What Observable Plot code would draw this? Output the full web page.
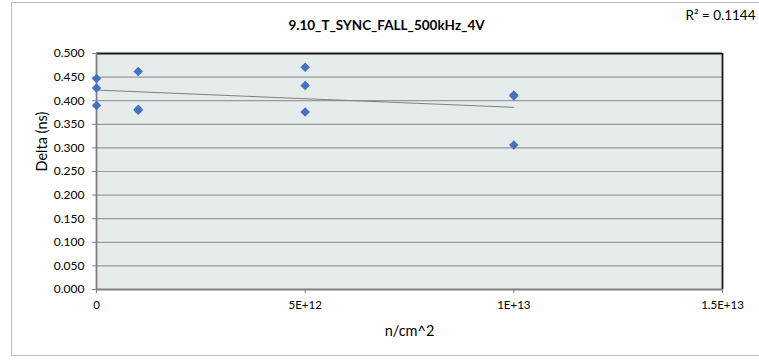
<!DOCTYPE html>
<html>
<head>
<meta charset="utf-8">
<script src="https://cdn.jsdelivr.net/npm/d3@7"></script>
<script src="https://cdn.jsdelivr.net/npm/@observablehq/plot@0.6"></script>
<style>
  html, body { margin: 0; padding: 0; background: #fff; }
  #wrap { position: relative; width: 759px; height: 360px; overflow: hidden; }
  #border { position: absolute; left: 11px; top: 2px; width: 760px; height: 354px; border: 1px solid #bdbdbd; box-sizing: border-box; pointer-events: none; }
  #chart { position: absolute; left: 0; top: 0; }
</style>
</head>
<body>
<div id="wrap"><div id="border"></div><div id="chart"></div></div>
<script>
const title = "9.10_T_SYNC_FALL_500kHz_4V";
const r2Label = "R² = 0.1144";
const xLabel = "n/cm^2";
const yLabel = "Delta (ns)";

const fluence = [0, 0, 0, 1e12, 1e12, 1e12, 5e12, 5e12, 5e12, 1e13, 1e13, 1e13];
const delta   = [0.447, 0.427, 0.390, 0.462, 0.380, 0.382, 0.471, 0.432, 0.376, 0.410, 0.412, 0.306];

const xTicks = [0, 5e12, 1e13, 1.5e13];
const xTickLabels = ["0", "5E+12", "1E+13", "1.5E+13"];
const yTicks = [0, 0.05, 0.1, 0.15, 0.2, 0.25, 0.3, 0.35, 0.4, 0.45, 0.5];
const yTickLabels = ["0.000", "0.050", "0.100", "0.150", "0.200", "0.250", "0.300", "0.350", "0.400", "0.450", "0.500"];

const n = fluence.length;
const font = "Lato, 'Open Sans', sans-serif";

const chart = Plot.plot({
  width: 759,
  height: 360,
  marginLeft: 96,
  marginRight: 37,
  marginTop: 53,
  marginBottom: 71,
  style: { fontFamily: font, fontSize: "12px", color: "#000", background: "transparent" },
  x: { domain: [0, 1.5e13], nice: false },
  y: { domain: [0, 0.5], nice: false },
  marks: [
    Plot.frame({ fill: "#e6ebeb", stroke: null }),
    Plot.ruleY(yTicks.filter(d => d > 0 && d < 0.5), { stroke: "#9a9a9a", strokeWidth: 1.2 }),
    Plot.ruleY([0.5], { stroke: "#1a1a1a", strokeWidth: 1.8 }),
    Plot.ruleX([1.5e13], { stroke: "#1a1a1a", strokeWidth: 1.8 }),
    Plot.ruleX([0], { stroke: "#7f7f7f", strokeWidth: 1.8 }),
    Plot.ruleY([0], { stroke: "#7f7f7f", strokeWidth: 1.8 }),
    Plot.axisY({ ticks: yTicks, tickFormat: (d, i) => yTickLabels[i], tickSize: 4, tickPadding: 8, stroke: "#7f7f7f", label: null, fontSize: 12 }),
    Plot.axisX({ ticks: xTicks, tickFormat: (d, i) => xTickLabels[i], tickSize: 4, tickPadding: 7, stroke: "#7f7f7f", label: null, fontSize: 11.5 }),
    Plot.linearRegressionY({ length: n }, { x: fluence, y: delta, ci: 0, stroke: "#808080", strokeWidth: 1 }),
    Plot.dot({ length: n }, { x: fluence, y: delta, symbol: "square", rotate: 45, r: 3.8, fill: "#4472c4", stroke: null }),
    Plot.text([title], { text: d => d, frameAnchor: "top", lineAnchor: "middle", dx: -23, dy: -28, fontWeight: "bold", fontSize: 13.5 }),
    Plot.text([r2Label], { text: d => d, frameAnchor: "top-right", textAnchor: "end", lineAnchor: "middle", dx: 33, dy: -38, fontSize: 13.5 }),
    Plot.text([xLabel], { text: d => d, frameAnchor: "bottom", lineAnchor: "middle", dy: 42, fontSize: 14.5 }),
    Plot.text([yLabel], { text: d => d, frameAnchor: "left", lineAnchor: "middle", rotate: -90, dx: -54, fontSize: 14.5 })
  ]
});
document.getElementById("chart").appendChild(chart);
</script>
</body>
</html>
